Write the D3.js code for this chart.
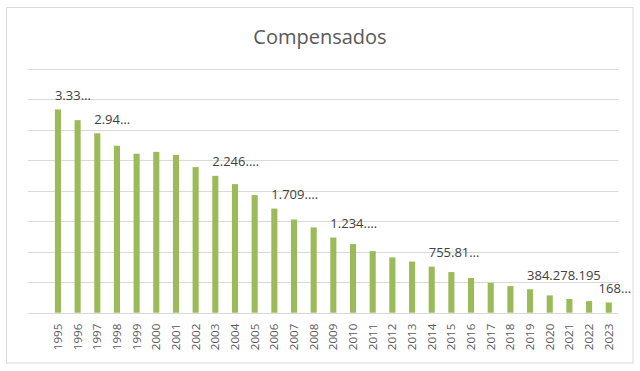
<!DOCTYPE html>
<html><head><meta charset="utf-8">
<script src="https://cdn.jsdelivr.net/npm/d3@7"></script>
<style>html,body{margin:0;padding:0;background:#fff;}svg{display:block;}</style>
</head><body>
<script>
const years = ["1995","1996","1997","1998","1999","2000","2001","2002","2003","2004","2005","2006","2007","2008","2009","2010","2011","2012","2013","2014","2015","2016","2017","2018","2019","2020","2021","2022","2023"];
const values = [3336000000,3160000000,2945000000,2740000000,2610000000,2640000000,2590000000,2390000000,2246000000,2110000000,1930000000,1709000000,1530000000,1400000000,1234000000,1126000000,1010000000,907000000,840000000,755810000,667000000,569000000,490000000,437000000,384278195,284000000,225000000,190000000,168000000];
const labelYears = ["1995","1997","2003","2006","2009","2014","2019","2023"];
const labelTexts = ["3.33…","2.94…","2.246.…","1.709.…","1.234.…","755.81…","384.278.195","168…"];
const yTicks = [0,500000000,1000000000,1500000000,2000000000,2500000000,3000000000,3500000000,4000000000];
const title = "Compensados";

const W = 640, H = 371;
const svg = d3.select("body").append("svg").attr("width", W).attr("height", H);
svg.append("rect").attr("x",6.5).attr("y",7.5).attr("width",626.5).attr("height",355.5)
  .attr("fill","#fff").attr("stroke","#d9d9d9").attr("stroke-width",1);

const y = d3.scaleLinear().domain([0,4000000000]).range([312.7,69]);
const x = d3.scaleBand().domain(years).range([48.1,618.6]).paddingInner(0.69).paddingOuter(0.345);

svg.append("text").attr("x",320).attr("y",43.5).attr("text-anchor","middle")
  .attr("font-family","Open Sans").attr("font-size",20).attr("fill","#595959").text(title);

svg.append("g").selectAll("line").data(yTicks).join("line")
  .attr("x1",28).attr("x2",618.5)
  .attr("y1",d=>Math.round(y(d))+0.5).attr("y2",d=>Math.round(y(d))+0.5)
  .attr("stroke","#d9d9d9").attr("stroke-width",1);

const data = years.map((yr,i)=>({yr, v: values[i]}));
svg.append("g").selectAll("rect").data(data).join("rect")
  .attr("x",d=>x(d.yr)).attr("width",x.bandwidth())
  .attr("y",d=>y(d.v)).attr("height",d=>y(0)-y(d.v))
  .attr("fill","#9bbb59");

const xAxis = d3.axisBottom(x).tickSize(0).tickPadding(0);
const ga = svg.append("g").attr("transform",`translate(0,${y(0)})`).call(xAxis);
ga.select(".domain").remove();
ga.selectAll("text")
  .attr("font-family","Open Sans").attr("font-size",11.6).attr("fill","#595959")
  .attr("transform","rotate(-90)").attr("text-anchor","end")
  .attr("x",-11).attr("y",0).attr("dy","0.35em");

const lab = svg.append("g").attr("font-family","Open Sans").attr("font-size",13).attr("fill","#404040");
labelYears.forEach((yr,i)=>{
  const v = values[years.indexOf(yr)];
  const t = lab.append("text").attr("y", y(v)-9.5).text(labelTexts[i]);
  const w = t.node().getComputedTextLength();
  let x0 = x(yr) + x.bandwidth()/2 - 3;
  if (x0 + w > 631) x0 = 631 - w;
  t.attr("x", x0);
});
</script>
</body></html>
